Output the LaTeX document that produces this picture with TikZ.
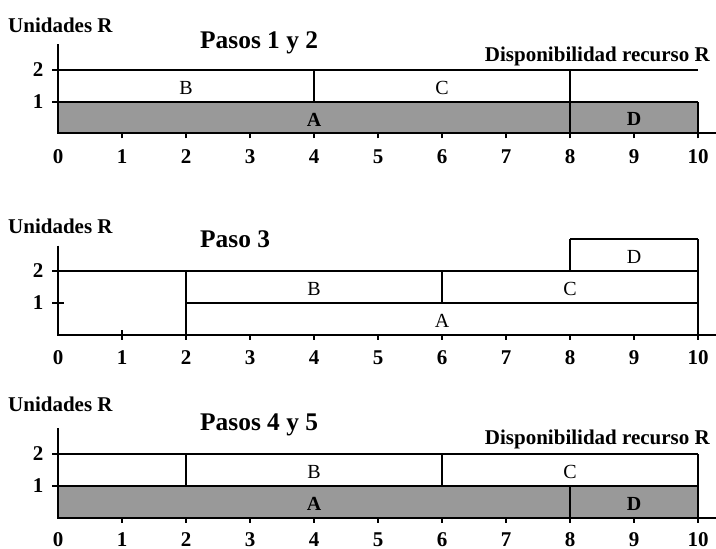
\documentclass[tikz,border=0pt]{standalone}
\usepackage{fontspec}
\setmainfont{Liberation Serif}
\definecolor{barGrey}{RGB}{153,153,153}
\tikzset{
  axisline/.style={line width=2pt},
  hedge/.style={line width=2pt},
  vedge/.style={line width=1.1pt},
  ttl/.style={font=\fontsize{25.4}{30}\selectfont\bfseries, inner sep=0pt, anchor=base west},
  caption/.style={font=\fontsize{21}{25}\selectfont\bfseries, inner sep=0pt},
  num/.style={font=\fontsize{21}{25}\selectfont\bfseries, inner sep=0pt},
  task/.style={font=\fontsize{20}{24}\selectfont, inner sep=0pt, yshift=-2pt},
  taskb/.style={font=\fontsize{20}{24}\selectfont\bfseries, inner sep=0pt, yshift=-2pt},
}
% axis frame of one panel: cross ticks, numbers 0..10 and 1..2
\newcommand{\paneltickmarks}{%
  \foreach \i in {1,...,10} \draw[axisline] (\i,-0.16) -- (\i,0.16);
  \foreach \j in {1,2} \draw[axisline] (-0.09,\j) -- (0.09,\j);
}
% #1: name prefix, #2: drop of the number baselines below the axis
\newcommand{\panelaxes}[2]{%
  \draw[axisline] (0,2.8) -- (0,0) -- (10.28,0);
  \foreach \i in {0,...,10}
    \node[num, anchor=base] (#1x\i) at ([yshift=-#2]\i,0) {\i};
  \foreach \j in {1,2}
    \node[num, anchor=base east] (#1y\j) at ([xshift=-14.5pt,yshift=-6.7pt]0,\j) {\j};
}
\begin{document}
\begin{tikzpicture}[x=1pt,y=1pt]
\useasboundingbox (0,-549) rectangle (716,0);

% ---------- Pasos 1 y 2 ----------
\node[caption, anchor=base west] (u1) at (8,-32) {Unidades R};
\node[ttl] (t1) at (200,-48.3) {Pasos 1 y 2};
\node[caption, anchor=base east] (d1) at (710,-61.7) {Disponibilidad recurso R};
\begin{scope}[shift={(58pt,-133.3pt)}, x=64pt, y=31.8pt]
  \paneltickmarks
  \fill[barGrey] (0,0) rectangle (10,1);
  \draw[vedge] (4,1) -- (4,2);
  \draw[vedge] (8,0) -- (8,2);
  \draw[vedge] (10,0) -- (10,1);
  \draw[hedge] (0,1) -- (10,1);
  \draw[hedge] (0,2) -- (10,2);
  \panelaxes{a}{30pt}
  \node[task] (aB) at (2,1.5) {B};
  \node[task] (aC) at (6,1.5) {C};
  \node[taskb] (aA) at (4,0.5) {A};
  \node[taskb] (aD) at (9,0.5) {D};
\end{scope}

% ---------- Paso 3 ----------
\node[caption, anchor=base west] (u2) at (8,-233.3) {Unidades R};
\node[ttl] (t2) at (200,-247.7) {Paso 3};
\begin{scope}[shift={(58pt,-334.7pt)}, x=64pt, y=31.8pt]
  \paneltickmarks
  \fill[white] (2,0) rectangle (10,1);
  \draw[vedge] (2,0) -- (2,2);
  \draw[vedge] (6,1) -- (6,2);
  \draw[vedge] (8,2) -- (8,3);
  \draw[vedge] (10,0) -- (10,3);
  \draw[hedge] (2,1) -- (10,1);
  \draw[hedge] (0,2) -- (10,2);
  \draw[hedge] (8,3) -- (10,3);
  \panelaxes{b}{30pt}
  \node[task] (bB) at (4,1.5) {B};
  \node[task] (bC) at (8,1.5) {C};
  \node[task] (bA) at (6,0.5) {A};
  \node[task] (bD) at (9,2.5) {D};
\end{scope}

% ---------- Pasos 4 y 5 ----------
\node[caption, anchor=base west] (u3) at (8,-411.7) {Unidades R};
\node[ttl] (t3) at (200,-430) {Pasos 4 y 5};
\node[caption, anchor=base east] (d3) at (710,-444.3) {Disponibilidad recurso R};
\begin{scope}[shift={(58pt,-517.7pt)}, x=64pt, y=32pt]
  \paneltickmarks
  \fill[barGrey] (0,0) rectangle (10,1);
  \draw[vedge] (2,1) -- (2,2);
  \draw[vedge] (6,1) -- (6,2);
  \draw[vedge] (8,0) -- (8,1);
  \draw[vedge] (10,0) -- (10,2);
  \draw[hedge] (0,1) -- (10,1);
  \draw[hedge] (0,2) -- (10,2);
  \panelaxes{c}{28.5pt}
  \node[task] (cB) at (4,1.5) {B};
  \node[task] (cC) at (8,1.5) {C};
  \node[taskb] (cA) at (4,0.5) {A};
  \node[taskb] (cD) at (9,0.5) {D};
\end{scope}
\end{tikzpicture}
\end{document}
